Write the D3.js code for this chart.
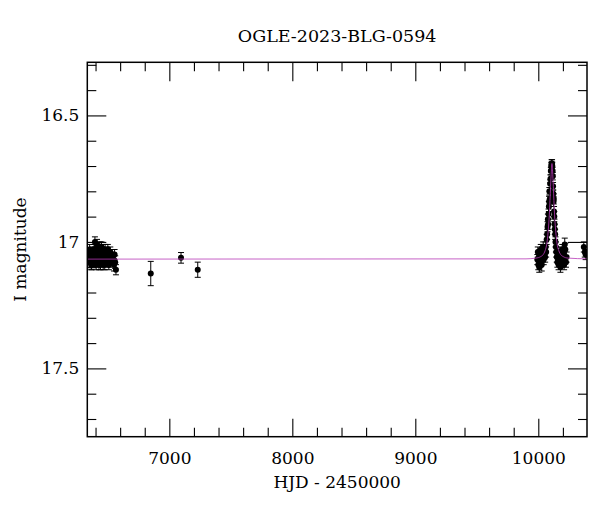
<!DOCTYPE html>
<html><head><meta charset="utf-8">
<script src="https://cdn.jsdelivr.net/npm/d3@7"></script>
<style>
body{margin:0;background:#fff;}
svg text{font-family:"DejaVu Serif",serif;fill:#000;}
</style></head>
<body><svg id="c" width="600" height="512"></svg>
<script>
// ---- data ----
const title = "OGLE-2023-BLG-0594";
const xLabel = "HJD - 2450000";
const yLabel = "I magnitude";
const xTicks = [7000, 8000, 9000, 10000];
const xTickLabels = ["7000", "8000", "9000", "10000"];
const yTicks = [16.5, 17, 17.5];
const yTickLabels = ["16.5", "17", "17.5"];
const xDomain = [6333, 10396];
const yDomain = [16.29, 17.77];

const hjd = [
 6345,6350,6352,6355,6360,6365,6368,6370,6375,6380,6385,6388,6390,6395,6400,6405,6410,6412,6415,6420,
 6425,6428,6430,6435,6440,6445,6448,6450,6455,6460,6462,6465,6470,6475,6478,6480,6485,6490,6492,6495,
 6500,6505,6508,6510,6515,6520,6525,6530,6545,6550,6555,6560,6566,
 6849,7095,7231,
 9992,9996,10000,10004,10008,10012,10016,10020,10024,10028,10032,10036,10040,10044,10048,10052,10056,10060,10064,
 10068,10072,10075,10078,10080,10083,10086,10088,10090,10093,10096,10099,10102,10105,10108,10110,10112,10114,10116,
 10118,10120,10122,10124,10126,10128,10130,10132,10134,10137,10140,10143,10146,10150,
 10155,10160,10165,10170,10175,10180,10185,10190,10195,10200,10205,10210,10215,10220,10225,10230,
 10370,10378,10385
];
const mag = [
 17.06,17.08,17.03,17.05,17.07,17.09,17.09,17.04,17.06,17.08,17.05,17.03,17.07,17.00,17.03,17.09,17.06,17.01,17.04,17.08,
 17.05,17.09,17.07,17.02,17.09,17.06,17.02,17.04,17.08,17.05,17.09,17.03,17.07,17.09,17.03,17.05,17.06,17.04,17.06,17.08,
 17.03,17.06,17.09,17.07,17.05,17.04,17.08,17.06,17.07,17.09,17.05,17.08,17.11,
 17.125,17.063,17.11,
 17.07,17.04,17.09,17.06,17.10,17.05,17.08,17.03,17.07,17.09,17.04,17.06,17.02,17.07,17.05,17.03,17.06,17.02,17.04,
 16.99,16.97,16.94,16.91,16.93,16.89,16.86,16.84,16.80,16.83,16.77,16.75,16.72,16.70,16.69,16.71,16.69,16.70,16.72,
 16.74,16.78,16.81,16.84,16.83,16.88,16.90,16.93,16.95,16.97,17.00,17.02,17.04,17.06,
 17.08,17.05,17.09,17.07,17.04,17.10,17.06,17.08,17.03,17.07,17.05,17.09,17.01,17.03,17.08,17.06,
 17.02,17.04,17.05
];
const magErr = [
 0.02,0.02,0.02,0.02,0.015,0.02,0.02,0.02,0.02,0.02,0.015,0.02,0.02,0.02,0.02,0.02,0.02,0.02,0.015,0.02,
 0.02,0.02,0.02,0.02,0.02,0.02,0.02,0.02,0.02,0.02,0.02,0.02,0.02,0.02,0.02,0.02,0.015,0.02,0.02,0.02,
 0.02,0.02,0.02,0.02,0.02,0.02,0.02,0.02,0.02,0.025,0.02,0.025,0.02,
 0.048,0.021,0.03,
 0.02,0.02,0.02,0.02,0.02,0.02,0.02,0.02,0.02,0.025,0.02,0.02,0.02,0.02,0.02,0.02,0.02,0.02,0.02,
 0.02,0.02,0.02,0.02,0.02,0.02,0.02,0.02,0.015,0.02,0.015,0.015,0.015,0.015,0.015,0.015,0.015,0.015,0.015,
 0.015,0.015,0.015,0.02,0.02,0.02,0.02,0.02,0.02,0.02,0.02,0.02,0.02,0.02,
 0.02,0.02,0.02,0.02,0.02,0.02,0.02,0.02,0.02,0.02,0.02,0.02,0.025,0.025,0.02,0.02,
 0.02,0.02,0.02
];
const modelT = [6333, 9900, 9980, 10020, 10040, 10055, 10070, 10080, 10090, 10100, 10106, 10111, 10116, 10122, 10132, 10142, 10152, 10167, 10182, 10202, 10242, 10396];
const modelMag = [17.068, 17.067, 17.064, 17.058, 17.050, 17.035, 17.005, 16.96, 16.89, 16.78, 16.72, 16.69, 16.72, 16.78, 16.89, 16.96, 17.005, 17.035, 17.050, 17.058, 17.064, 17.067];

// ---- layout ----
const L = 87.3, R = 587, T = 62.3, B = 436.7;
const svg = d3.select("#c");
const x = d3.scaleLinear().domain(xDomain).range([L, R]);
const y = d3.scaleLinear().domain(yDomain).range([T, B]);

const xMinor = d3.range(6400, 10400, 200).filter(v => !xTicks.includes(v));
const yMinor = d3.range(16.3, 17.78, 0.1).map(v => +v.toFixed(1)).filter(v => !yTicks.includes(v));

function styleAxis(g){
  g.select(".domain").remove();
  g.selectAll(".tick line").attr("stroke","#000").attr("stroke-width",1.1);
  g.selectAll(".tick text").attr("font-size",17).attr("font-family","DejaVu Serif");
}
// bottom
svg.append("g").attr("transform",`translate(0,${B})`)
  .call(d3.axisBottom(x).tickValues(xTicks).tickSize(-18).tickPadding(15).tickFormat((d,i)=>xTickLabels[i])).call(styleAxis);
svg.append("g").attr("transform",`translate(0,${B})`)
  .call(d3.axisBottom(x).tickValues(xMinor).tickSize(-9).tickFormat("")).call(styleAxis);
// top
svg.append("g").attr("transform",`translate(0,${T})`)
  .call(d3.axisTop(x).tickValues(xTicks).tickSize(-19).tickFormat("")).call(styleAxis);
svg.append("g").attr("transform",`translate(0,${T})`)
  .call(d3.axisTop(x).tickValues(xMinor).tickSize(-9).tickFormat("")).call(styleAxis);
// left
svg.append("g").attr("transform",`translate(${L},0)`)
  .call(d3.axisLeft(y).tickValues(yTicks).tickSize(-19).tickPadding(8).tickFormat((d,i)=>yTickLabels[i])).call(styleAxis);
svg.append("g").attr("transform",`translate(${L},0)`)
  .call(d3.axisLeft(y).tickValues(yMinor).tickSize(-9).tickFormat("")).call(styleAxis);
// right
svg.append("g").attr("transform",`translate(${R},0)`)
  .call(d3.axisRight(y).tickValues(yTicks).tickSize(-19).tickFormat("")).call(styleAxis);
svg.append("g").attr("transform",`translate(${R},0)`)
  .call(d3.axisRight(y).tickValues(yMinor).tickSize(-9).tickFormat("")).call(styleAxis);

// clip
svg.append("clipPath").attr("id","clip").append("rect").attr("x",L).attr("y",T).attr("width",R-L).attr("height",B-T);
const plot = svg.append("g").attr("clip-path","url(#clip)");

const pts = hjd.map((t,i)=>({t, m:mag[i], e:magErr[i]}));
const eb = plot.append("g").attr("stroke","#000").attr("stroke-width",1);
pts.forEach(p=>{
  const cx = x(p.t), y1 = y(p.m - p.e), y2 = y(p.m + p.e);
  eb.append("line").attr("x1",cx).attr("x2",cx).attr("y1",y1).attr("y2",y2);
  eb.append("line").attr("x1",cx-3).attr("x2",cx+3).attr("y1",y1).attr("y2",y1);
  eb.append("line").attr("x1",cx-3).attr("x2",cx+3).attr("y1",y2).attr("y2",y2);
});
plot.append("g").selectAll("circle").data(pts).join("circle")
  .attr("cx",d=>x(d.t)).attr("cy",d=>y(d.m)).attr("r",3).attr("fill","#000");

const model = modelT.map((t,i)=>[t, modelMag[i]]);
plot.append("path").datum(model)
  .attr("d", d3.line().x(d=>x(d[0])).y(d=>y(d[1])).curve(d3.curveMonotoneX))
  .attr("fill","none").attr("stroke","#b83ab8").attr("stroke-width",0.8);

// frame
svg.append("rect").attr("x",L).attr("y",T).attr("width",R-L).attr("height",B-T)
  .attr("fill","none").attr("stroke","#000").attr("stroke-width",1.5);

// titles
svg.append("text").attr("x",(L+R)/2).attr("y",42).attr("text-anchor","middle").attr("font-size",17.5).text(title);
svg.append("text").attr("x",(L+R)/2).attr("y",488).attr("text-anchor","middle").attr("font-size",17).text(xLabel);
svg.append("text").attr("transform",`translate(26,${(T+B)/2}) rotate(-90)`).attr("text-anchor","middle").attr("font-size",17).text(yLabel);
</script></body></html>
